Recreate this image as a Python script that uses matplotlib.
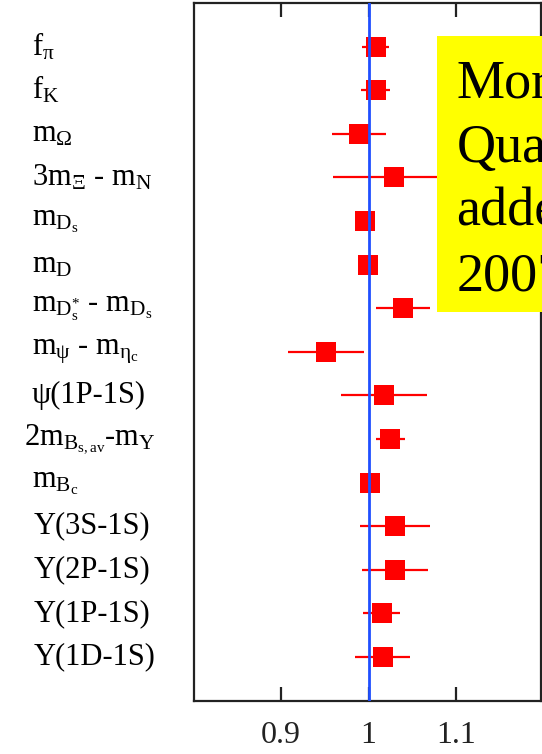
import matplotlib
matplotlib.use("Agg")
import matplotlib.pyplot as plt
from matplotlib.patches import Rectangle
from matplotlib import transforms

# Quantities (ratio lattice / experiment) with their uncertainties
labels = [
    r"f$_\mathrm{π}$",
    r"f$_\mathrm{K}$",
    r"m$_\mathrm{Ω}$",
    r"3m$_\mathrm{Ξ}$ - m$_\mathrm{N}$",
    r"m$_{\mathrm{D}_\mathrm{s}}$",
    r"m$_\mathrm{D}$",
    r"m$_{\mathrm{D}^{*}_\mathrm{s}}$ - m$_{\mathrm{D}_\mathrm{s}}$",
    r"m$_\mathrm{ψ}$ - m$_{\mathrm{η}_\mathrm{c}}$",
    "ψ(1P-1S)",
    r"2m$_{\mathrm{B}_\mathrm{s,av}}$-m$_\mathrm{Υ}$",
    r"m$_{\mathrm{B}_\mathrm{c}}$",
    "Υ(3S-1S)",
    "Υ(2P-1S)",
    "Υ(1P-1S)",
    "Υ(1D-1S)",
]
ratios = [1.008, 1.008, 0.989, 1.029, 0.996, 0.999, 1.039, 0.951,
          1.018, 1.025, 1.002, 1.030, 1.030, 1.015, 1.016]
errors = [0.015, 0.017, 0.031, 0.070, 0.0, 0.0, 0.031, 0.0435,
          0.049, 0.017, 0.0, 0.040, 0.038, 0.021, 0.031]

x_ticks = [0.9, 1.0, 1.1]
x_ticklabels = ["0.9", "1", "1.1"]

note_lines = ["More", "Quantities", "added", "2007"]

plt.rcParams["font.family"] = ["Liberation Serif", "DejaVu Serif"]
plt.rcParams["mathtext.fontset"] = "custom"
plt.rcParams["mathtext.rm"] = "Liberation Serif"
plt.rcParams["mathtext.it"] = "Liberation Serif:italic"

W, H = 542, 754
fig = plt.figure(figsize=(W / 100, H / 100), dpi=100)
ax = fig.add_axes([193.5 / W, 1 - 700.5 / H, (541 - 193.5) / W, (700.5 - 3) / H])

rows = list(range(len(labels)))

red = "#ff0000"
ax.errorbar(ratios, rows, xerr=errors, fmt="s", color=red, ecolor=red,
            markersize=15, markeredgewidth=0, elinewidth=1.6,
            capsize=9, capthick=1.6, zorder=3)
ax.axvline(1.0, color="#1f4fff", lw=2.0, zorder=4)

ax.set_xlim(0.8, 1.197)
ax.set_ylim(len(labels), -1)

ax.set_xticks(x_ticks)
ax.set_xticklabels(x_ticklabels, fontsize=23, color="#222222")
ax.tick_params(axis="x", direction="in", length=10, width=1.6,
               top=True, bottom=True, pad=15, colors="#222222",
               labelcolor="#222222")
ax.set_yticks([])
for sp in ax.spines.values():
    sp.set_linewidth(1.6)
    sp.set_color("#222222")

# Row labels, left aligned in the margin
label_nudge = {9: -8, 11: 2, 12: 2, 13: 2, 14: 2}
for i, lab in enumerate(labels):
    off = transforms.ScaledTranslation(label_nudge.get(i, 0) / 100, 0,
                                       fig.dpi_scale_trans)
    tr = transforms.blended_transform_factory(fig.transFigure, ax.transData) + off
    ax.text(31.5 / W, i, lab, transform=tr, ha="left", va="center",
            fontsize=22, color="black", clip_on=False)

# Yellow note box
fig.patches.append(Rectangle((437 / W, 1 - 311.5 / H), (W - 437) / W + 0.02,
                             (311.5 - 35.5) / H, transform=fig.transFigure,
                             facecolor="#ffff00", edgecolor="none", zorder=5))
baseline0, line_step = 97.5, 64.2
for k, line in enumerate(note_lines):
    fig.text(456.5 / W, 1 - (baseline0 + k * line_step) / H, line,
             ha="left", va="baseline", fontsize=39, color="black", zorder=6)

fig.savefig("out.png", dpi=100)
